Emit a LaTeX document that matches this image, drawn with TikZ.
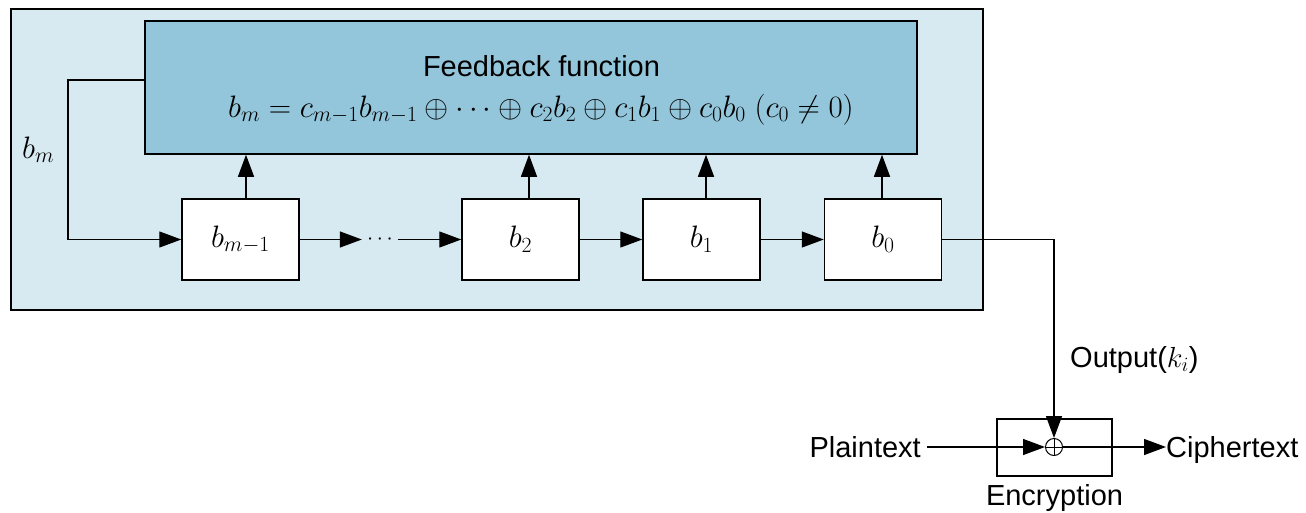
\RequirePackage{fix-cm}
\documentclass[tikz,border=0pt]{standalone}
\usepackage{fontspec}
\setmainfont{Liberation Sans}
\usetikzlibrary{arrows.meta}
\definecolor{panel}{HTML}{D7E9F1}
\definecolor{fbfill}{HTML}{94C6DB}
\begin{document}
\begin{tikzpicture}[x=1pt,y=-1pt,
  arr/.style={-{Triangle[length=22pt,width=16pt]}, line width=1.3pt},
  frame/.style={draw, line width=1.5pt, inner sep=0pt},
  reg/.style={frame, fill=white, minimum width=117pt, minimum height=81pt,
    font=\fontsize{31}{36}\selectfont},
  lbl/.style={font=\fontsize{29}{34}\selectfont, inner sep=0pt}]
\useasboundingbox (0,0) rectangle (1306,512);

% outer LFSR panel and the feedback function block
\node[frame, fill=panel, minimum width=972pt, minimum height=301pt] (panel) at (497,159.5) {};
\node[frame, fill=fbfill, minimum width=772pt, minimum height=133pt] (fb) at (531,87.5) {};
\node[lbl, anchor=base] (fbtitle) at (541.5,76) {Feedback function};
\node[lbl, anchor=base, font=\fontsize{31}{36}\selectfont] (fbeq) at (541,117)
  {$b_m = c_{m-1}b_{m-1} \oplus \cdots \oplus c_2b_2 \oplus c_1b_1 \oplus c_0b_0\ (c_0 \neq 0)$};

% shift register cells
\node[reg] (bm1) at (240.5,239.5) {$b_{m-1}$};
\node[reg] (b2)  at (520.5,239.5) {$b_2$};
\node[reg] (b1)  at (701.5,239.5) {$b_1$};
\node[reg] (b0)  at (883,239.5)   {$b_0$};
\node[inner sep=0pt, minimum width=36pt, font=\fontsize{22}{26}\selectfont] (dots) at (380,239.5) {$\cdots$};

% taps into the feedback function
\draw[arr] ([xshift=5.5pt]bm1.north) -- ([xshift=5.5pt]bm1.north |- fb.south);
\draw[arr] ([xshift=8.5pt]b2.north) -- ([xshift=8.5pt]b2.north |- fb.south);
\draw[arr] ([xshift=4.5pt]b1.north) -- ([xshift=4.5pt]b1.north |- fb.south);
\draw[arr] ([xshift=-1pt]b0.north) -- ([xshift=-1pt]b0.north |- fb.south);

% feedback loop back into the first cell
\coordinate (loop) at (68,239.5);
\draw[arr] ([yshift=7.5pt]fb.west) -| (loop) -- (bm1.west);
\node[lbl, anchor=base west, font=\fontsize{31}{36}\selectfont] (bmlbl) at (22,158) {$b_m$};

% shifting between cells
\draw[arr] (bm1.east) -- (dots.west);
\draw[arr] (dots.east) -- (b2.west);
\draw[arr] (b2.east) -- (b1.west);
\draw[arr] (b1.east) -- (b0.west);

% encryption stage
\node[frame, minimum width=115pt, minimum height=57pt] (enc) at (1054.5,447.5) {};
\node[circle, draw, line width=1pt, minimum size=17pt, inner sep=0pt] (xor) at (1054,447) {};
\draw[line width=1pt] (xor.north) -- (xor.south) (xor.west) -- (xor.east);
\node[lbl, anchor=base] (enclbl) at (1054.5,505) {Encryption};

\draw[arr] (b0.east) -| (xor.north);
\node[lbl, anchor=base west] (outlbl) at (1070,367) {Output($k_i$)};

\node[lbl, anchor=base east] (ptxt) at (921,457) {Plaintext};
\node[lbl, anchor=base west] (ctxt) at (1166,457) {Ciphertext};
\draw[arr] ([xshift=6pt,yshift=10pt]ptxt.base east) -- (xor.west);
\draw[arr] (xor.east) -- ([yshift=10pt]ctxt.base west);
\end{tikzpicture}
\end{document}
